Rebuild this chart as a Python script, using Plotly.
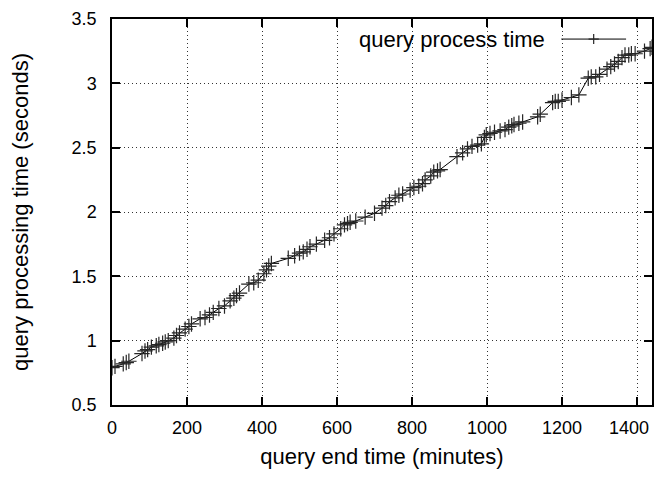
import plotly.graph_objects as go

query_end_min = [0, 8, 30, 38, 45, 80, 88, 95, 105, 118, 125, 135, 142, 150, 165, 172, 180, 195, 205, 212,
                 235, 248, 260, 270, 285, 300, 315, 325, 332, 340, 365, 378, 390, 405, 412, 418, 425, 470,
                 487, 500, 510, 520, 528, 545, 567, 580, 592, 610, 620, 628, 635, 650, 675, 700, 720, 730,
                 740, 755, 765, 775, 795, 805, 818, 828, 835, 850, 858, 868, 875, 920, 935, 948, 960, 975,
                 985, 993, 998, 1008, 1020, 1035, 1048, 1058, 1066, 1072, 1085, 1095, 1135, 1142, 1175,
                 1182, 1190, 1200, 1225, 1245, 1270, 1278, 1290, 1300, 1320, 1330, 1340, 1350, 1360, 1368,
                 1378, 1385, 1395, 1420, 1435, 1440]
query_proc_sec = [0.79, 0.80, 0.82, 0.83, 0.84, 0.90, 0.92, 0.93, 0.95, 0.96, 0.97, 0.98, 0.99, 1.00, 1.02,
                  1.04, 1.06, 1.09, 1.11, 1.13, 1.17, 1.18, 1.20, 1.22, 1.25, 1.27, 1.31, 1.33, 1.35, 1.37,
                  1.44, 1.45, 1.47, 1.52, 1.55, 1.58, 1.60, 1.64, 1.66, 1.68, 1.69, 1.71, 1.73, 1.75, 1.78,
                  1.80, 1.83, 1.87, 1.90, 1.91, 1.92, 1.93, 1.96, 1.99, 2.03, 2.05, 2.08, 2.11, 2.13, 2.14,
                  2.17, 2.19, 2.20, 2.22, 2.25, 2.28, 2.31, 2.32, 2.33, 2.43, 2.46, 2.49, 2.51, 2.52, 2.53,
                  2.58, 2.60, 2.61, 2.62, 2.63, 2.64, 2.66, 2.67, 2.68, 2.69, 2.70, 2.74, 2.76, 2.85, 2.86,
                  2.86, 2.87, 2.89, 2.91, 3.04, 3.05, 3.05, 3.07, 3.11, 3.13, 3.15, 3.17, 3.20, 3.22, 3.22,
                  3.23, 3.23, 3.25, 3.27, 3.28]

x_ticks = [0, 200, 400, 600, 800, 1000, 1200, 1400]
x_tick_text = ["0", "200", "400", "600", "800", "1000", "1200", "1400"]
y_ticks = [0.5, 1, 1.5, 2, 2.5, 3, 3.5]
y_tick_text = ["0.5", "1", "1.5", "2", "2.5", "3", "3.5"]
series_name = "query process time"

FONT = "Liberation Sans, Arial, sans-serif"
MARK = "#262626"

fig = go.Figure()
fig.add_trace(go.Scatter(
    x=query_end_min, y=query_proc_sec, mode="lines+markers", name=series_name,
    line=dict(color="#000000", width=1),
    marker=dict(symbol="cross-thin", size=11, line=dict(color=MARK, width=1.2), color=MARK),
    showlegend=False,
))

# gnuplot-style legend: text, then line sample with marker on the right
lx0, lx1, ly = 0.832, 0.952, 0.948
mx = 0.892
shapes = [
    dict(type="line", xref="paper", yref="paper", x0=lx0, x1=lx1, y0=ly, y1=ly,
         line=dict(color="#000000", width=1)),
    dict(type="line", xref="paper", yref="paper", x0=mx - 0.0095, x1=mx + 0.0095, y0=ly, y1=ly,
         line=dict(color=MARK, width=1.2)),
    dict(type="line", xref="paper", yref="paper", x0=mx, x1=mx, y0=ly - 0.013, y1=ly + 0.013,
         line=dict(color=MARK, width=1.2)),
]

# the last x tick label sits at the right edge; gnuplot nudges it inward, so draw it as text
annotations = [
    dict(text=series_name, xref="paper", yref="paper", x=0.806, y=ly,
         xanchor="right", yanchor="middle", showarrow=False,
         font=dict(family=FONT, size=22, color="#000000")),
    dict(text=x_tick_text[-1], xref="x", yref="paper", x=x_ticks[-1], y=0,
         xanchor="right", yanchor="top", xshift=14, yshift=-11, showarrow=False,
         font=dict(family=FONT, size=18, color="#000000")),
]

fig.update_layout(
    width=647, height=461,
    margin=dict(l=104, r=1, t=11, b=61),
    paper_bgcolor="white", plot_bgcolor="white",
    font=dict(family=FONT, size=18, color="#000000"),
    shapes=shapes,
    annotations=annotations,
)
common = dict(
    showline=True, linecolor="#000000", linewidth=1.5, mirror="ticks",
    ticks="inside", ticklen=8, tickwidth=1.5, tickcolor="#000000",
    showgrid=True, gridcolor="#333333", gridwidth=1, griddash="1px,3px",
    zeroline=False, tickfont=dict(family=FONT, size=18),
)
fig.update_xaxes(
    range=[0, 1440], tickvals=x_ticks, ticktext=x_tick_text[:-1] + [""],
    ticklabelstandoff=6,
    title=dict(text="query end time (minutes)", font=dict(family=FONT, size=22), standoff=14),
    **common,
)
fig.update_yaxes(
    range=[0.5, 3.5], tickvals=y_ticks, ticktext=y_tick_text,
    ticklabelstandoff=10,
    title=dict(text="query processing time (seconds)", font=dict(family=FONT, size=22), standoff=40),
    **common,
)

fig.write_html("out.html")
